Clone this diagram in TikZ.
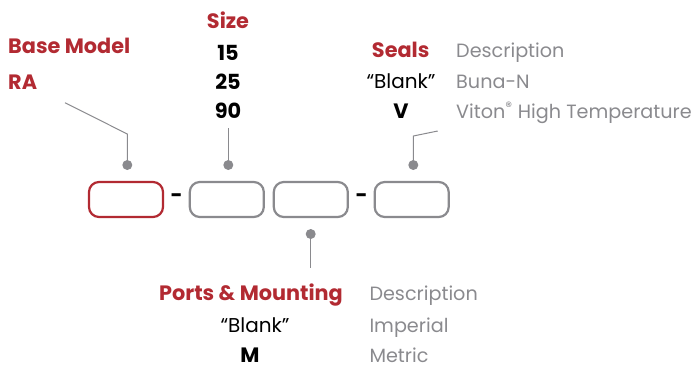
\documentclass[tikz,border=0pt]{standalone}
\usepackage{fontspec}
\setmainfont{Poppins}
\usetikzlibrary{positioning}
\definecolor{codered}{HTML}{B22A32}
\definecolor{codegray}{HTML}{8A8A8E}
\tikzstyle{slot}=[draw=codegray, line width=2.2pt, rounded corners=10pt
,minimum width=74pt, minimum height=35pt
,inner sep=0pt
]
\tikzstyle{base slot} = [slot, draw=codered]
\tikzstyle{pin} = [circle, fill=codegray, minimum size=10pt, inner sep=0pt]
\tikzstyle{leader} = [draw=codegray, line width=1pt]
\tikzstyle{head} = [font=\fontsize{20.8}{20.8}\selectfont\bfseries, text=codered, inner sep=0pt, anchor=base]
\tikzstyle{code} = [font=\fontsize{20.8}{20.8}\selectfont\bfseries, text=black, inner sep=0pt, anchor=base]
\tikzstyle{blank} = [font=\fontsize{20}{20}\selectfont, text=black, inner sep=0pt, anchor=base]
\tikzstyle{desc} = [font=\fontsize{19.2}{19.2}\selectfont, text=codegray, inner sep=0pt, anchor=base west]

\begin{document}
\begin{tikzpicture}[x=1pt,y=-1pt]
    \useasboundingbox (0,0) rectangle (700,365);
    % the four slots of the model code
    \node[base slot] (S_1) at (126,199.5) {};
    \foreach \pos/\name in {{(226.8,199.5)/S_2}, {(310.8,199.5)/S_3}, {(411.7,199.5)/S_4}}
        \node[slot] (\name) at \pos {};
    \node[code, anchor=mid] (D_1) at (176.7,200) {-};
    \node[code, anchor=mid] (D_2) at (361.7,200) {-};

    % pins above and below the slots
    \foreach \pos/\name in {{(127.3,165)/P_1}, {(228.3,165)/P_2}, {(413.3,165)/P_4}, {(310.7,234)/P_3}}
        \node[pin] (\name) at \pos {};

    % Base Model
    \node[head, anchor=base west] (base) at (8,53.3) {Base Model};
    \node[head, anchor=base west] (ra) at (8,89.5) {RA};

    % Size
    \node[head] (size) at (228,28) {Size};
    \foreach \y/\name/\txt in {60/s15/15, 89.7/s25/25, 118.7/s90/90}
        \node[code] (\name) at (228,\y) {\txt};

    % Seals
    \node[head] (seals) at (400.7,57.3) {Seals};
    \node[desc] (sdesc) at (456,57.3) {Description};
    \node[blank] (sblank) at (401,88.7) {“Blank”};
    \node[desc] (buna) at (456,88.7) {Buna-N};
    \node[code] (sv) at (401,118.7) {V};
    \node[desc] (viton) at (456,118.7) {Viton\textsuperscript{®} High Temperature};

    % Ports & Mounting
    \node[head] (ports) at (251,300.7) {Ports \& Mounting};
    \node[desc] (pdesc) at (369.3,300.7) {Description};
    \node[blank] (pblank) at (255,332) {“Blank”};
    \node[desc] (imp) at (369.3,332) {Imperial};
    \node[code] (pm) at (250,362.3) {M};
    \node[desc] (metric) at (369.3,362.3) {Metric};

    % leader lines
    \coordinate (L_1a) at (65,102.7);
    \coordinate (L_1b) at (127.3,134);
    \coordinate (L_2a) at (228.3,128);
    \coordinate (L_4a) at (437.7,131);
    \coordinate (L_4b) at (413.3,136);
    \coordinate (L_3a) at (310.7,268);
    \path[leader] (L_1a) -- (L_1b) -- (P_1.center);
    \path[leader] (L_2a) -- (P_2.center);
    \path[leader] (L_4a) -- (L_4b) -- (P_4.center);
    \path[leader] (P_3.center) -- (L_3a);
\end{tikzpicture}
\end{document}
